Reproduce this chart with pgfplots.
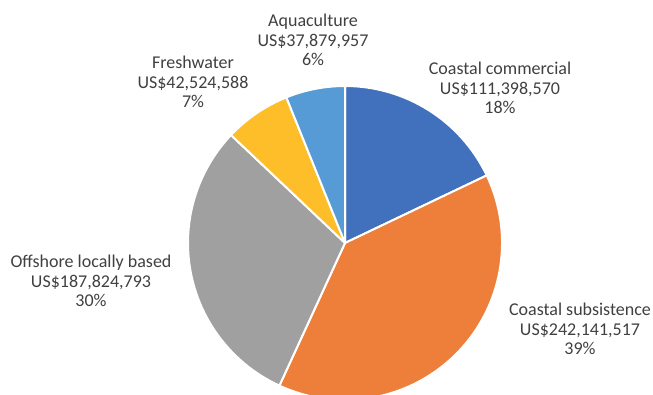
\documentclass[border=0pt]{standalone}
\usepackage{pgfplots}
\pgfplotsset{compat=1.18}
\usepackage{pgfplotstable}
\usepackage{fontspec}
\setmainfont{Carlito}
\definecolor{pie0}{HTML}{4170BD}
\definecolor{pie1}{HTML}{EE7F3A}
\definecolor{pie2}{HTML}{A0A0A0}
\definecolor{pie3}{HTML}{FDBE2A}
\definecolor{pie4}{HTML}{579BD6}
\definecolor{txt}{HTML}{404040}
\tikzset{lbl/.style={font=\fontsize{18}{19.5}\selectfont, text=txt, align=center, inner sep=0pt}}
% values in millions of US$
\pgfplotstableread[col sep=comma]{
name,value
Coastal commercial,111.398570
Coastal subsistence,242.141517
Offshore locally based,187.824793
Freshwater,42.524588
Aquaculture,37.879957
}\pietable
\xdef\total{0}
\pgfplotstableforeachcolumnelement{value}\of\pietable\as\v{%
  \pgfmathsetmacro\t{\total+\v}\xdef\total{\t}}
\xdef\cum{0}
\pgfplotstableforeachcolumnelement{value}\of\pietable\as\v{%
  \pgfmathsetmacro\a{90-360*(\cum/\total)}%
  \pgfmathsetmacro\c{\cum+\v}%
  \pgfmathsetmacro\b{90-360*(\c/\total)}%
  \expandafter\xdef\csname sa\pgfplotstablerow\endcsname{\a}%
  \expandafter\xdef\csname ea\pgfplotstablerow\endcsname{\b}%
  \xdef\cum{\c}}
\begin{document}
\begin{tikzpicture}
\begin{axis}[
  scale only axis, width=653pt, height=394pt,
  xmin=0, xmax=653, ymin=0, ymax=394,
  axis lines=none, clip=true,
]
\pgfplotsinvokeforeach{0,...,4}{%
  \fill[pie#1, draw=white, line width=2pt, line join=round]
    (axis cs:345,151) -- ++(\csname sa#1\endcsname:157pt)
    arc[start angle=\csname sa#1\endcsname, end angle=\csname ea#1\endcsname, radius=157pt] -- cycle;
}
\node[lbl] at (axis cs:313,354) {Aquaculture\\US\$37,879,957\\6\%};
\node[lbl] at (axis cs:193,312) {Freshwater\\US\$42,524,588\\7\%};
\node[lbl] at (axis cs:500,306) {Coastal commercial\\US\$111,398,570\\18\%};
\node[lbl] at (axis cs:91,113) {Offshore locally based\\US\$187,824,793\\30\%};
\node[lbl] at (axis cs:580,65) {Coastal subsistence\\US\$242,141,517\\39\%};
\end{axis}
\pgfresetboundingbox
\path[use as bounding box] (current axis.south west) rectangle (current axis.north east);
\end{tikzpicture}
\end{document}
